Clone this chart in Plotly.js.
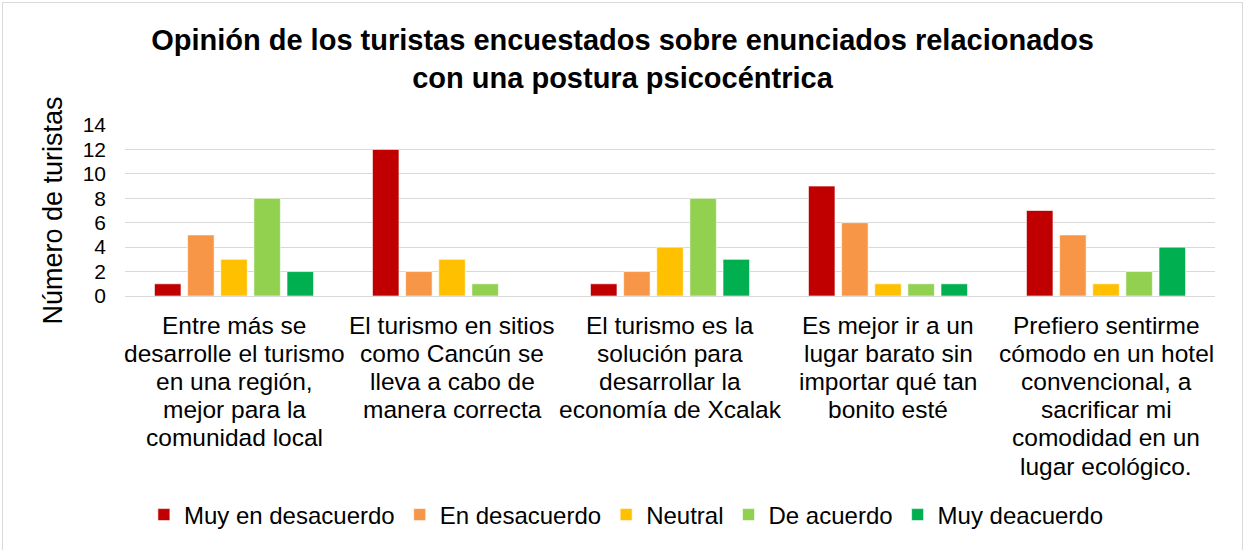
<!DOCTYPE html>
<html>
<head>
<meta charset="utf-8">
<script src="https://cdn.plot.ly/plotly-3.0.1.min.js"></script>
<style>
body{margin:0;padding:0;background:#fff;}
#wrap{position:relative;width:1245px;height:550px;}
#chart{width:1245px;height:550px;}
#frame{position:absolute;left:2px;top:2px;width:1239px;height:560px;border:1px solid #d9d9d9;pointer-events:none;}
</style>
</head>
<body>
<div id="wrap"><div id="chart"></div><div id="frame"></div></div>
<script>
const categories = [
  "Entre más se<br>desarrolle el turismo<br>en una región,<br>mejor para la<br>comunidad local",
  "El turismo en sitios<br>como Cancún se<br>lleva a cabo de<br>manera correcta",
  "El turismo es la<br>solución para<br>desarrollar la<br>economía de Xcalak",
  "Es mejor ir a un<br>lugar barato sin<br>importar qué tan<br>bonito esté",
  "Prefiero sentirme<br>cómodo en un hotel<br>convencional, a<br>sacrificar mi<br>comodidad en un<br>lugar ecológico."
];
const seriesNames = ["Muy en desacuerdo","En desacuerdo","Neutral","De acuerdo","Muy deacuerdo"];
const muyDesacuerdo = [1,12,1,9,7];
const enDesacuerdo = [5,2,2,6,5];
const neutral = [3,3,4,1,1];
const deAcuerdo = [8,1,8,1,2];
const muyDeacuerdo = [2,0,3,1,4];
const colors = ["#C00000","#F79646","#FFC000","#92D050","#00B050"];
const allSeries = [muyDesacuerdo,enDesacuerdo,neutral,deAcuerdo,muyDeacuerdo];

const FONT = '"Liberation Sans", Arial, sans-serif';

const traces = allSeries.map((vals,i)=>({
  type:'bar', name:seriesNames[i], x:categories, y:vals,
  marker:{color:colors[i], line:{color:'rgba(255,255,255,0.6)', width:1}},
  hoverinfo:'y'
}));

// category labels drawn line by line (tight line spacing as in the reference)
const annotations = [];
const lineStep = 28.2, firstLine = 29;
categories.forEach((cat, ci)=>{
  cat.split('<br>').forEach((line,j)=>{
    annotations.push({
      text:line, x:ci, xref:'x', y:0, yref:'paper',
      xanchor:'center', yanchor:'middle', yshift:-(firstLine + j*lineStep),
      showarrow:false, font:{size:24.5, color:'#000', family:FONT}
    });
  });
});

const layout = {
  width:1245, height:550,
  margin:{l:125, r:30, t:125, b:254},
  paper_bgcolor:'#fff', plot_bgcolor:'#fff',
  font:{family:FONT, color:'#000'},
  title:{text:'<b>Opinión de los turistas encuestados sobre enunciados relacionados<br>con una postura psicocéntrica</b>',
    font:{size:29, color:'#000'}, x:0.5, xanchor:'center', xref:'container',
    y:1-50/550, yref:'container', yanchor:'middle'},
  barmode:'group', bargap:0.24, bargroupgap:0.2,
  xaxis:{type:'category', range:[-0.5,4.5], autorange:false, showticklabels:false, showgrid:false, showline:false, ticks:'', automargin:false, fixedrange:true},
  yaxis:{range:[0,14], dtick:2, tick0:0, tickfont:{size:21,color:'#000'},
    gridcolor:'#d9d9d9', gridwidth:1, zeroline:true, zerolinecolor:'#d9d9d9', zerolinewidth:1,
    showline:false, ticks:'', ticklabelstandoff:18, automargin:false, fixedrange:true,
    title:{text:'Número de turistas', font:{size:27,color:'#000'}, standoff:12}},
  annotations:annotations,
  showlegend:true,
  legend:{orientation:'h', x:0.46, xanchor:'center', y:(296-515)/171, yanchor:'middle',
    font:{size:24,color:'#000'}, traceorder:'normal'}
};
Plotly.newPlot('chart', traces, layout, {displayModeBar:false, staticPlot:true});
</script>
</body>
</html>
